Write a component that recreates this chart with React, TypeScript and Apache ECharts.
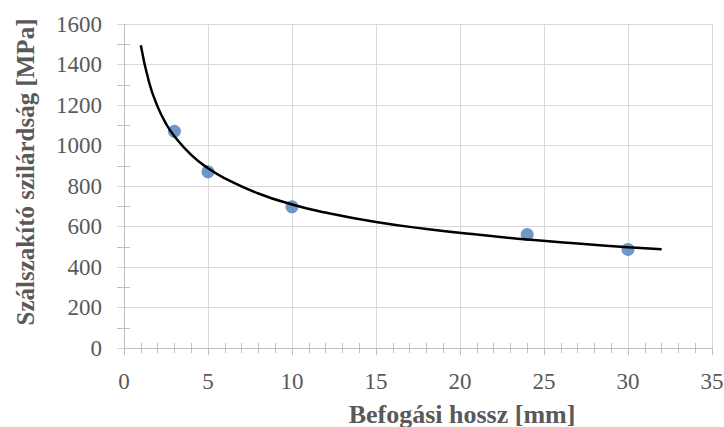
import React, { useEffect, useRef } from "react";
import * as echarts from "echarts";

const pointX = [3, 5, 10, 24, 30];
const pointY = [1070, 870, 697, 560, 487];

const trendX = [1, 1.5, 2, 2.5, 3, 4, 5, 6, 8, 10, 12, 15, 18, 21, 24, 27, 30, 32];
const trendY = [1495, 1310, 1192, 1108, 1046, 954, 888, 838, 763, 709, 669, 622, 588, 560, 536, 516, 498, 488];

const xTitle = "Befogási hossz [mm]";
const yTitle = "Szálszakító szilárdság [MPa]";

const FONT = "Liberation Serif";
const GRID_COLOR = "#d9d9d9";
const AXIS_COLOR = "#bfbfbf";
const TEXT_COLOR = "#595959";

export default function App() {
  const ref = useRef<HTMLDivElement>(null);
  useEffect(() => {
    if (!ref.current) return;
    const chart = echarts.init(ref.current, undefined, { renderer: "svg" });
    const scatter = pointX.map((x, i) => [x, pointY[i]]);
    const trend = trendX.map((x, i) => [x, trendY[i]]);
    chart.setOption({
      animation: false,
      backgroundColor: "#ffffff",
      textStyle: { fontFamily: FONT },
      grid: { left: 124, right: 12, top: 24, bottom: 79, containLabel: false, outerBoundsMode: "none" },
      xAxis: [
        {
          type: "value",
          min: 0,
          max: 35,
          interval: 5,
          name: xTitle,
          nameLocation: "middle",
          nameGap: 53,
          nameTextStyle: {
            fontFamily: FONT,
            fontSize: 26,
            fontWeight: "bold",
            color: TEXT_COLOR,
            padding: [0, 0, 0, 88],
          },
          axisLine: { show: true, onZero: false, lineStyle: { color: AXIS_COLOR, width: 1 } },
          axisTick: { show: true, length: 7, lineStyle: { color: AXIS_COLOR } },
          minorTick: { show: true, splitNumber: 5, length: 5, lineStyle: { color: AXIS_COLOR } },
          axisLabel: { fontFamily: FONT, fontSize: 23, color: TEXT_COLOR, margin: 22, formatter: (v: number) => String(v) },
          splitLine: { show: true, lineStyle: { color: GRID_COLOR, width: 1 } },
        },
        {
          type: "value",
          position: "bottom",
          min: 0,
          max: 35,
          interval: 5,
          axisLine: { show: false, onZero: false },
          axisTick: { show: false, inside: true },
          minorTick: { show: true, splitNumber: 5, length: 5, lineStyle: { color: AXIS_COLOR } },
          axisLabel: { show: false },
          splitLine: { show: false },
        },
      ],
      yAxis: [
        {
          type: "value",
          min: 0,
          max: 1600,
          interval: 200,
          name: yTitle,
          nameLocation: "middle",
          nameGap: 86,
          nameTextStyle: {
            fontFamily: FONT,
            fontSize: 25,
            fontWeight: "bold",
            color: TEXT_COLOR,
            padding: [0, 0, 0, 28],
          },
          axisLine: { show: true, onZero: false, lineStyle: { color: AXIS_COLOR, width: 1 } },
          axisTick: { show: true, length: 7, lineStyle: { color: GRID_COLOR } },
          minorTick: { show: true, splitNumber: 2, length: 7, lineStyle: { color: AXIS_COLOR } },
          axisLabel: { fontFamily: FONT, fontSize: 23, color: TEXT_COLOR, margin: 22, formatter: (v: number) => String(v) },
          splitLine: { show: true, lineStyle: { color: GRID_COLOR, width: 1 } },
        },
        {
          type: "value",
          position: "left",
          min: 0,
          max: 1600,
          interval: 200,
          axisLine: { show: false, onZero: false },
          axisTick: { show: false, inside: true },
          minorTick: { show: true, splitNumber: 2, length: 6, lineStyle: { color: AXIS_COLOR } },
          axisLabel: { show: false },
          splitLine: { show: false },
        },
      ],
      series: [
        {
          type: "line",
          xAxisIndex: 0,
          yAxisIndex: 0,
          data: trend,
          smooth: true,
          showSymbol: false,
          symbol: "none",
          lineStyle: { color: "#000000", width: 2.5 },
          z: 3,
        },
        {
          type: "scatter",
          xAxisIndex: 0,
          yAxisIndex: 0,
          data: scatter,
          symbol: "circle",
          symbolSize: 13,
          itemStyle: { color: "#4a7ebb" },
          z: 2,
        },
      ],
    });
    return () => chart.dispose();
  }, []);
  return <div ref={ref} style={{ width: 724, height: 427, position: "absolute", left: 0, top: 0 }} />;
}
